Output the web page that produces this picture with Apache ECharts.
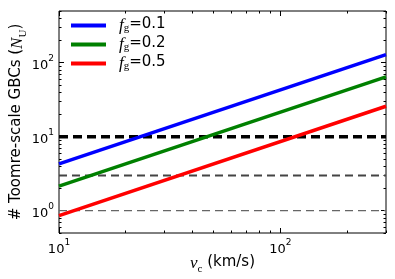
<!DOCTYPE html>
<html>
<head>
<meta charset="utf-8">
<script src="https://cdn.jsdelivr.net/npm/echarts@6/dist/echarts.min.js"></script>
<style>html,body{margin:0;padding:0;background:#fff}#c{width:395px;height:279px}</style>
</head>
<body>
<div id="c"></div>
<script>
// ---- data ----
const vc = [10, 300];
const fg01 = [4.3, 129];
const fg02 = [2.15, 64.5];
const fg05 = [0.86, 25.8];
const fgLabels = ['0.1', '0.2', '0.5'];
const refLevels = [10, 3, 1];
const xMajor = [10, 100];
const xMinor = [20, 30, 40, 50, 60, 70, 80, 90, 200, 300];
const yMajor = [1, 10, 100];
const yMinor = [0.5, 0.6, 0.7, 0.8, 0.9, 2, 3, 4, 5, 6, 7, 8, 9, 20, 30, 40, 50, 60, 70, 80, 90, 200, 300, 400, 500];
const xRange = [10, 300];
const yRange = [0.5, 500];

const chart = echarts.init(document.getElementById('c'), null, {renderer: 'canvas'});

const sans = 'DejaVu Sans';
const supRich = {
  b: {fontFamily: sans, fontSize: 13, color: '#000', verticalAlign: 'bottom', lineHeight: 18},
  s: {fontFamily: sans, fontSize: 9, color: '#000', verticalAlign: 'top', lineHeight: 18, padding: [0,0,0,0]}
};
const fmtPow = v => '{b|10}{s|' + Math.round(Math.log10(v)) + '}';

function mkX(pos, vals, len, labels) {
  return {
    type: 'log', logBase: 10, min: xRange[0], max: xRange[1], position: pos,
    axisLine: {show: false, onZero: false},
    splitLine: {show: false},
    axisTick: {show: true, inside: true, length: len, customValues: vals, lineStyle: {color: '#000', width: 1}},
    axisLabel: labels ? {show: true, customValues: vals, formatter: fmtPow, rich: supRich, margin: 5} : {show: false},
  };
}
function mkY(pos, vals, len, labels) {
  return {
    type: 'log', logBase: 10, min: yRange[0], max: yRange[1], position: pos,
    axisLine: {show: false, onZero: false},
    splitLine: {show: false},
    axisTick: {show: true, inside: true, length: len, customValues: vals, lineStyle: {color: '#000', width: 1}},
    axisLabel: labels ? {show: true, customValues: vals, formatter: fmtPow, rich: supRich, margin: 5} : {show: false},
  };
}

const xAxes = [mkX('bottom', xMajor, 5, true), mkX('bottom', xMinor, 2.5, false), mkX('top', xMajor, 5, false), mkX('top', xMinor, 2.5, false)];
xAxes[0].name = '{v|v}{c|c}{t| (km/s)}';
xAxes[0].nameLocation = 'middle';
xAxes[0].nameGap = 22;
xAxes[0].nameMoveOverlap = false;
xAxes[0].nameTextStyle = {rich: {
  v: {fontFamily: 'Liberation Serif', fontStyle: 'italic', fontSize: 17, color: '#000', verticalAlign: 'top', lineHeight: 20},
  c: {fontFamily: 'Liberation Serif', fontSize: 11, color: '#000', verticalAlign: 'bottom', lineHeight: 10},
  t: {fontFamily: sans, fontSize: 15, color: '#000', verticalAlign: 'top', lineHeight: 20}
}};
const yAxes = [mkY('left', yMajor, 5, true), mkY('left', yMinor, 2.5, false), mkY('right', yMajor, 5, false), mkY('right', yMinor, 2.5, false)];
yAxes[0].name = '{t|# Toomre-scale GBCs (}{n|N}{u|U}{t|)}';
yAxes[0].nameLocation = 'middle';
yAxes[0].nameRotate = 90;
yAxes[0].nameGap = 30;
yAxes[0].nameMoveOverlap = false;
yAxes[0].nameTextStyle = {rich: {
  t: {fontFamily: sans, fontSize: 15, color: '#000', verticalAlign: 'top', lineHeight: 20},
  n: {fontFamily: 'Liberation Serif', fontStyle: 'italic', fontSize: 17, color: '#000', verticalAlign: 'top', lineHeight: 20},
  u: {fontFamily: 'Liberation Serif', fontSize: 11, color: '#000', verticalAlign: 'bottom', lineHeight: 10}
}};

const lineSeries = [
  {name: 'fg01', color: '#0000ff', vals: fg01},
  {name: 'fg02', color: '#008000', vals: fg02},
  {name: 'fg05', color: '#ff0000', vals: fg05}
];
const levelStyles = [
  {color: '#000000', width: 3.5, dash: [9, 5]},
  {color: '#444444', width: 2, dash: [8, 5]},
  {color: '#666666', width: 1.2, dash: [8, 5]}
];

const series = [];
refLevels.forEach((lv, i) => {
  series.push({
    type: 'line', xAxisIndex: 0, yAxisIndex: 0, symbol: 'none', silent: true, z: 2,
    data: [[vc[0], lv], [vc[1], lv]],
    lineStyle: {color: levelStyles[i].color, width: levelStyles[i].width, type: levelStyles[i].dash, cap: 'butt'}
  });
});
lineSeries.forEach(s => {
  series.push({
    name: s.name, type: 'line', xAxisIndex: 0, yAxisIndex: 0, symbol: 'none', z: 3,
    data: vc.map((v, i) => [v, s.vals[i]]),
    color: s.color,
    lineStyle: {color: s.color, width: 3.5, cap: 'butt'},
    itemStyle: {color: s.color}
  });
});

const legendNames = {fg01: fgLabels[0], fg02: fgLabels[1], fg05: fgLabels[2]};
chart.setOption({
  animation: false,
  backgroundColor: '#fff',
  grid: {left: 59, right: 9, top: 11, bottom: 46, show: true, borderColor: '#000', borderWidth: 1, backgroundColor: 'transparent', containLabel: false, outerBoundsMode: 'none'},
  xAxis: xAxes,
  yAxis: yAxes,
  legend: {
    show: true, orient: 'vertical', left: 66, top: 12, icon: 'rect', itemWidth: 35, itemHeight: 4, itemGap: 2,
    data: ['fg01', 'fg02', 'fg05'],
    formatter: n => '{f|f}{g|g}{t|=' + legendNames[n] + '}',
    textStyle: {padding: [0, 0, 0, 8], rich: {
      f: {fontFamily: 'Liberation Serif', fontStyle: 'italic', fontSize: 17, color: '#000', verticalAlign: 'top', lineHeight: 17},
      g: {fontFamily: 'Liberation Serif', fontSize: 11, color: '#000', verticalAlign: 'bottom', lineHeight: 6},
      t: {fontFamily: sans, fontSize: 15, color: '#000', verticalAlign: 'top', lineHeight: 17}
    }}
  },
  series: series
});
</script>
</body>
</html>
